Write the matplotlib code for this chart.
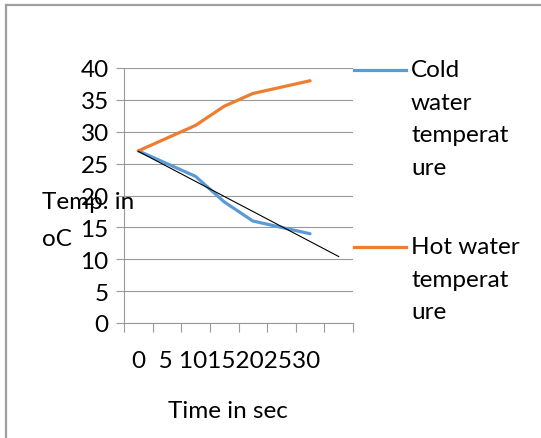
import numpy as np
import matplotlib
matplotlib.use("Agg")
import matplotlib.pyplot as plt
from matplotlib.lines import Line2D

time_labels = ["0", "5", "10", "15", "20", "25", "30"]
cold = [27, 25, 23, 19, 16, 15, 14]
hot = [27, 29, 31, 34, 36, 37, 38]
series_names = ["Cold\nwater\ntemperat\nure", "Hot water\ntemperat\nure"]
series_colors = ["#5B9BD5", "#ED7D31"]
y_ticks = [0, 5, 10, 15, 20, 25, 30, 35, 40]

plt.rcParams['font.family'] = ['Lato', 'DejaVu Sans']
FS = 17.5

fig = plt.figure(figsize=(5.41, 4.39), dpi=100)
W, H = 541, 439

def fx(px):
    return px / W

def fy(py):
    return 1 - py / H

# outer frame
fig.add_artist(Line2D([fx(5.5), fx(5.5)], [fy(5.5), 0], color="#a0a0a0", lw=1.6))
fig.add_artist(Line2D([fx(5.5), 1], [fy(5.5), fy(5.5)], color="#a0a0a0", lw=1.6))

ax = fig.add_axes([fx(124), fy(324), fx(353) - fx(124), fy(69) - fy(324)])
n_cat = len(time_labels) + 1
x = np.arange(1, len(time_labels) + 1)

ax.set_xlim(0.5, n_cat + 0.5)
ax.set_ylim(0, 40)
ax.set_yticks(y_ticks)
ax.set_yticklabels([str(v) for v in y_ticks], fontsize=FS)
ax.set_xticks(np.arange(0.5, n_cat + 1, 1))
ax.set_xticklabels([])
ax.grid(axis="y", color="#999999", lw=0.8)
ax.set_axisbelow(True)
for s in ["top", "right"]:
    ax.spines[s].set_visible(False)
for s in ["left", "bottom"]:
    ax.spines[s].set_color("#999999")
    ax.spines[s].set_linewidth(0.8)
ax.tick_params(axis="y", length=6, color="#999999", width=0.8, pad=5)
ax.tick_params(axis="x", length=6.5, color="#999999", width=0.8)

ax.plot(x, cold, color=series_colors[0], lw=2.3, solid_capstyle="round")
ax.plot(x, hot, color=series_colors[1], lw=2.3, solid_capstyle="round")

coef = np.polyfit(x, cold, 1)
xt = np.arange(1, n_cat + 1)
ax.plot(xt, np.polyval(coef, xt), color="black", lw=0.8)

# category labels (squeezed as in original)
xlab = time_labels[0] + "  " + time_labels[1] + " " + "".join(time_labels[2:])
fig.text(fx(226), fy(362), xlab, fontsize=FS, ha="center", va="center")
fig.text(fx(228), fy(412), "Time in sec", fontsize=FS, ha="center", va="center")

# y axis title
fig.text(fx(42), fy(203), "Temp. in", fontsize=FS, ha="left", va="center")
fig.text(fx(42), fy(240), "oC", fontsize=FS, ha="left", va="center")

# legend
leg_y = [71, 248]
for name, col, ly in zip(series_names, series_colors, leg_y):
    fig.add_artist(Line2D([fx(354), fx(406)], [fy(ly), fy(ly)], color=col, lw=2.3))
    for i, line in enumerate(name.split("\n")):
        fig.text(fx(411), fy(ly + 32.5 * i), line, fontsize=FS, ha="left", va="center")

fig.savefig("out.png", dpi=100)
